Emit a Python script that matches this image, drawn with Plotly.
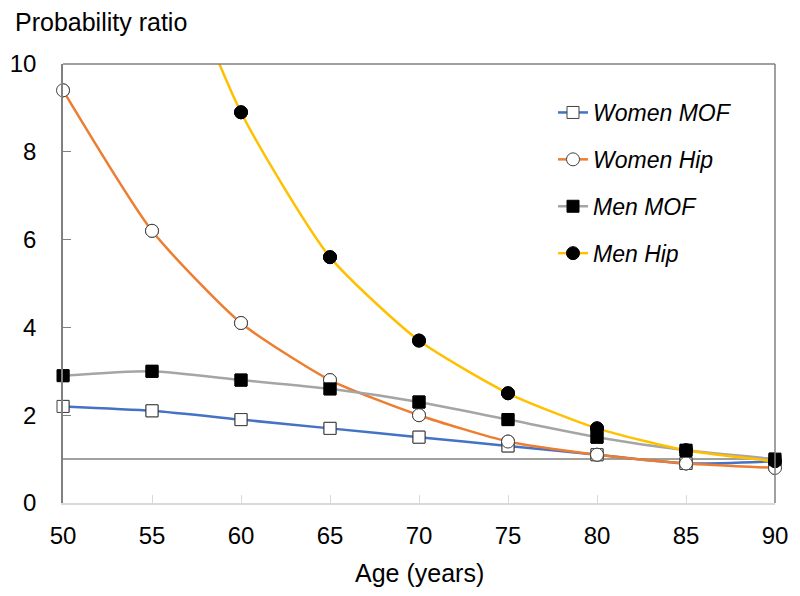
import plotly.graph_objects as go

ages = [50, 55, 60, 65, 70, 75, 80, 85, 90]
women_mof = [2.2, 2.1, 1.9, 1.7, 1.5, 1.3, 1.1, 0.9, 0.95]
women_hip = [9.4, 6.2, 4.1, 2.8, 2.0, 1.4, 1.1, 0.9, 0.8]
men_mof = [2.9, 3.0, 2.8, 2.6, 2.3, 1.9, 1.5, 1.2, 1.0]
men_hip = [22.0, 14.0, 8.9, 5.6, 3.7, 2.5, 1.7, 1.2, 0.95]
ref_value = 1
y_max = 10

FONT = "Liberation Sans, Arial, sans-serif"
W, H = 792, 588
L, R, T, B = 55, 25, 56, 93
PW, PH = W - L - R, H - T - B

fig = go.Figure()

series = [
    ("Women MOF", women_mof, "#4472C4", "square", "white"),
    ("Women Hip", women_hip, "#ED7D31", "circle", "white"),
    ("Men MOF", men_mof, "#A5A5A5", "square", "black"),
    ("Men Hip", men_hip, "#FFC000", "circle", "black"),
]

fig.add_trace(go.Scatter(x=[ages[0], ages[-1]], y=[ref_value, ref_value], mode="lines",
                         line=dict(color="#808080", width=1.5), showlegend=False, hoverinfo="skip"))

def marker_style(sym, fill):
    return dict(symbol=sym, size=13 if sym == "circle" else 12, color=fill,
                line=dict(color="#404040" if fill == "white" else "black", width=1))

for i, (name, vals, col, sym, fill) in enumerate(series):
    fig.add_trace(go.Scatter(
        x=ages, y=vals, name=name, mode="lines+markers",
        line=dict(color=col, width=2.5, shape="spline", smoothing=0.6),
        marker=marker_style(sym, fill), legendgroup=f"g{i}", cliponaxis=True,
    ))

for i, (name, vals, col, sym, fill) in enumerate(series):
    pts = [(a, v) for a, v in zip(ages, vals) if v <= y_max]
    fig.add_trace(go.Scatter(
        x=[p[0] for p in pts], y=[p[1] for p in pts], mode="markers",
        marker=marker_style(sym, fill), showlegend=False, legendgroup=f"g{i}",
        cliponaxis=False, hoverinfo="skip",
    ))

fig.update_layout(
    width=W, height=H,
    margin=dict(l=L, r=R, t=T, b=B, autoexpand=False),
    paper_bgcolor="white", plot_bgcolor="white",
    font=dict(family=FONT, size=24, color="black"),
    legend=dict(x=(558 - 8 - L - 5) / PW, y=1 - (108 - 8 - T - 17) / PH,
                xanchor="left", yanchor="top",
                font=dict(family=FONT, size=23, style="italic"),
                itemwidth=30, tracegroupgap=14, traceorder="grouped",
                bgcolor="rgba(0,0,0,0)"),
    xaxis=dict(range=[50, 90], tickvals=ages, ticks="inside", ticklen=8, tickcolor="#D9D9D9",
               showgrid=False, zeroline=False, showline=True, linecolor="#D9D9D9", linewidth=1.5,
               ticklabelstandoff=10, tickfont=dict(size=24), automargin=False),
    yaxis=dict(range=[0, 10], tickvals=[0, 2, 4, 6, 8, 10], ticks="inside", ticklen=8,
               tickcolor="#808080", showgrid=False, zeroline=False, showline=True,
               linecolor="#808080", linewidth=1.5, ticklabelstandoff=20,
               tickfont=dict(size=24), automargin=False),
    shapes=[
        dict(type="line", xref="paper", yref="paper", x0=0, x1=1, y0=1, y1=1,
             line=dict(color="#808080", width=1.5)),
        dict(type="line", xref="paper", yref="paper", x0=1, x1=1, y0=0, y1=1,
             line=dict(color="#808080", width=1.5)),
    ],
    annotations=[
        dict(text="Probability ratio", xref="paper", yref="paper",
             x=(5 - L) / PW, y=1 + 42 / PH, xanchor="left", yanchor="middle",
             showarrow=False, font=dict(family=FONT, size=25)),
        dict(text="Age (years)", xref="paper", yref="paper",
             x=0.5, y=-70 / PH, xanchor="center", yanchor="middle",
             showarrow=False, font=dict(family=FONT, size=25)),
    ],
)

fig.write_html("out.html")
